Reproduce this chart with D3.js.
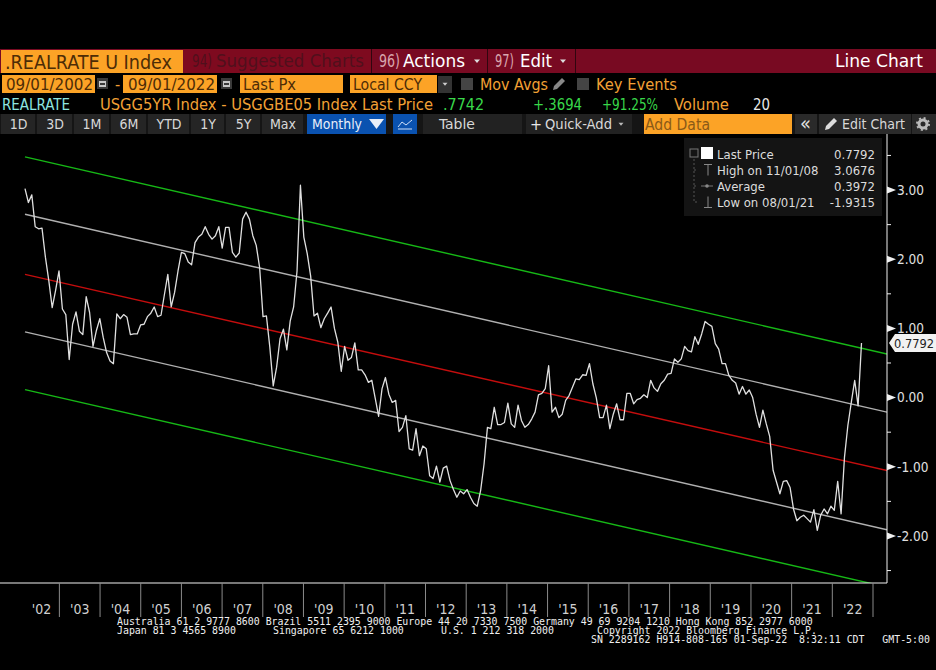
<!DOCTYPE html>
<html>
<head>
<meta charset="utf-8">
<script src="https://cdn.jsdelivr.net/npm/d3@7"></script>
<style>
  html, body { margin: 0; padding: 0; background: #000; overflow: hidden; }
  text { font-family: "DejaVu Sans Condensed", "DejaVu Sans", sans-serif; }
  .mono { font-family: "DejaVu Sans Mono", monospace; white-space: pre; }
</style>
</head>
<body>
<svg id="chart" width="936" height="670"></svg>
<script>
// monthly spread, first point to last
var real_rate = [
  3.02, 2.82, 2.93, 2.47, 2.44, 2.45, 2.03, 1.69, 1.30, 1.55, 1.83, 1.28, 1.20, 0.55, 1.06, 1.24,
  0.96, 0.91, 1.46, 1.23, 0.74, 0.97, 1.14, 0.87, 0.65, 0.53, 0.49, 1.21, 1.14, 1.20, 1.16, 0.91,
  0.92, 0.92, 1.05, 1.06, 1.17, 1.22, 1.31, 1.17, 1.19, 1.49, 1.78, 1.31, 1.52, 1.83, 2.10, 2.08,
  1.96, 1.92, 2.24, 2.32, 2.36, 2.47, 2.36, 2.29, 2.34, 2.47, 2.16, 2.46, 2.46, 2.10, 2.03, 2.09,
  2.58, 2.68, 2.58, 2.34, 2.20, 1.88, 1.17, 1.18, 0.73, 0.17, 0.44, 0.85, 0.99, 0.69, 1.11, 1.31,
  1.83, 3.07, 2.32, 2.08, 1.76, 1.18, 1.22, 1.01, 1.14, 1.22, 1.31, 1.00, 0.80, 0.38, 0.74, 0.54,
  0.58, 0.79, 0.40, 0.40, 0.33, 0.22, 0.25, -0.01, -0.27, 0.13, 0.29, 0.05, -0.07, -0.04, -0.49, -0.43,
  -0.26, -0.74, -0.76, -0.45, -0.84, -0.70, -0.74, -1.13, -1.17, -0.99, -1.22, -1.02, -0.99, -1.20, -1.33, -1.44,
  -1.35, -1.39, -1.33, -1.44, -1.53, -1.57, -1.34, -0.96, -0.43, -0.45, -0.14, -0.39, -0.39, -0.36, -0.08, -0.38,
  -0.43, -0.11, -0.33, -0.43, -0.39, -0.31, -0.21, 0.04, 0.06, 0.13, 0.46, -0.21, -0.14, -0.29, -0.24, -0.04,
  0.03, 0.15, 0.27, 0.26, 0.33, 0.32, 0.49, 0.20, 0.00, -0.29, -0.29, -0.11, -0.45, -0.24, -0.09, -0.32,
  -0.32, 0.06, 0.06, -0.09, -0.03, -0.01, 0.04, 0.00, 0.25, 0.14, 0.09, 0.20, 0.25, 0.34, 0.35, 0.56,
  0.51, 0.56, 0.74, 0.68, 0.66, 0.88, 0.77, 0.92, 1.10, 1.06, 1.03, 0.78, 0.70, 0.49, 0.49, 0.32,
  0.25, 0.21, 0.05, 0.16, 0.05, 0.11, 0.00, -0.24, -0.43, -0.18, -0.38, -0.56, -1.05, -1.22, -1.39, -1.21,
  -1.20, -1.30, -1.61, -1.78, -1.73, -1.70, -1.75, -1.80, -1.62, -1.92, -1.70, -1.61, -1.68, -1.57, -1.63, -1.21,
  -1.68, -0.86, -0.40, -0.07, 0.25, -0.12, 0.79
];

var year_labels = ["'02", "'03", "'04", "'05", "'06", "'07", "'08", "'09", "'10", "'11", "'12",
  "'13", "'14", "'15", "'16", "'17", "'18", "'19", "'20", "'21", "'22"];
var major_ticks = [3, 2, 1, 0, -1, -2];
var minor_ticks = [3.5, 2.5, 1.5, 0.5, -0.5, -1.5, -2.5];

// trend channel: value at the left end and at the right edge of the plot
var channel_names = ['upper2', 'upper1', 'mid', 'lower1', 'lower2'];
var channel_start = [3.48, 2.65, 1.78, 0.95, 0.115];
var channel_end = [0.63, -0.21, -1.055, -1.91, -2.74];
var channel_color = ['#16b816', '#b0b0b0', '#c40d0d', '#b0b0b0', '#16b816'];

var legend_names = ['Last Price', 'High on 11/01/08', 'Average', 'Low on 08/01/21'];
var legend_values = ['0.7792', '3.0676', '0.3972', '-1.9315'];

var svg = d3.select('#chart');
var orange = '#fca326', on_orange = '#4d2c06', txt_orange = '#f2a035', bar_red = '#780a22';
var green = '#39d84a';

var x = d3.scaleLinear().domain([0, 253.5]).range([25, 887]);
var y = d3.scaleLinear().domain([-2.68, 3.81]).range([583, 134]);
var x_years = d3.scaleBand().domain(year_labels).range([18.7, 873]);

function box(px, py, w, h, fill) {
  return svg.append('rect').attr('x', px).attr('y', py).attr('width', w).attr('height', h).attr('fill', fill);
}

// text is fitted to the width it has in the screenshot
function label(px, cy, str, fill, size, width, anchor) {
  var t = svg.append('text').attr('x', px).attr('y', cy).attr('dy', '0.36em')
    .attr('fill', fill).attr('font-size', size).text(str);
  if (width) t.attr('textLength', width).attr('lengthAdjust', 'spacingAndGlyphs');
  if (anchor) t.attr('text-anchor', anchor);
  return t;
}

function caret(cx, cy, s, fill) {
  svg.append('path').attr('d', 'M' + (cx - s) + ',' + (cy - s / 2) + 'h' + (2 * s) + 'l' + (-s) + ',' + (s * 1.2) + 'z').attr('fill', fill);
}

function calendar(px) {
  box(px, 78, 11, 11, '#3a3a3a');
  box(px + 2, 81, 7, 6, '#c8c8c8');
  box(px + 3, 83, 5, 2, '#3a3a3a');
}

function pencil(px, cy, fill) {
  svg.append('path').attr('d', 'M' + px + ',' + (cy + 6) + 'l1,-4l8,-8l3,3l-8,8z').attr('fill', fill);
}

function header() {
  // title bar
  box(0, 49, 936, 24, bar_red);
  box(1, 50, 182, 23, orange);
  label(5, 62, '.REALRATE U Index', on_orange, 19, 167);
  box(184, 49, 187, 24, '#7e0a1f');
  label(192, 61, '94)', '#50101c', 17, 20);
  label(216, 61, 'Suggested Charts', '#50101c', 18, 148);
  box(371, 49, 1, 24, '#30060f');
  label(379, 61, '96)', '#d8a6ae', 17, 21);
  label(403, 61, 'Actions', '#fff', 18, 62);
  caret(477, 61, 3, '#ddd');
  box(487, 49, 1, 24, '#30060f');
  label(495, 61, '97)', '#d8a6ae', 17, 19);
  label(520, 61, 'Edit', '#fff', 18, 32);
  caret(563, 61, 3, '#ddd');
  box(575, 49, 1, 24, '#30060f');
  label(835, 61, 'Line Chart', '#fff', 18, 88);

  // date row
  box(2, 75, 93, 18, orange);
  label(6, 84, '09/01/2002', on_orange, 16, 87);
  calendar(97);
  label(115, 84, '-', txt_orange, 16);
  box(123, 75, 94, 18, orange);
  label(128, 84, '09/01/2022', on_orange, 16, 87);
  calendar(221);
  box(240, 75, 103, 18, orange);
  label(243, 84, 'Last Px', on_orange, 16, 53);
  box(350, 75, 87, 18, orange);
  label(353, 84, 'Local CCY', on_orange, 16, 69);
  box(438, 76, 14, 17, '#333');
  caret(445, 84, 2.5, '#ccc');
  box(461, 78, 12, 12, '#444');
  label(480, 84, 'Mov Avgs', txt_orange, 16, 68);
  pencil(553, 84, '#888');
  box(577, 78, 12, 12, '#444');
  label(596, 84, 'Key Events', txt_orange, 16, 81);

  // description row
  label(2, 104, 'REALRATE', '#8fe6e0', 16, 68);
  label(100, 104, 'USGG5YR Index - USGGBE05 Index Last Price', txt_orange, 16, 333);
  label(443, 104, '.7742', green, 16, 41);
  label(533, 104, '+.3694', green, 16, 49);
  label(602, 104, '+91.25%', green, 16, 56);
  label(674, 104, 'Volume', txt_orange, 16, 55);
  label(753, 104, '20', '#e8e8e8', 16, 17);

  // toolbar
  box(0, 114, 936, 20, '#151515');
  var range_left = [1, 37, 74, 111, 148, 191, 226, 262];
  var range_right = [36, 73, 110, 147, 190, 225, 261, 304];
  var range_text = ['1D', '3D', '1M', '6M', 'YTD', '1Y', '5Y', 'Max'];
  range_text.forEach(function (d, i) {
    box(range_left[i], 114, range_right[i] - range_left[i] - 1, 20, '#252525');
    label((range_left[i] + range_right[i]) / 2, 124, d, '#d8d8d8', 14, null, 'middle');
  });
  box(307, 114, 79, 20, '#0a52b0');
  label(312, 124, 'Monthly', '#e8eef8', 14.5, 50);
  svg.append('path').attr('d', 'M369,119h15l-7.5,10z').attr('fill', '#e8eef8');
  box(393, 114, 24, 20, '#0a52b0');
  svg.append('path').attr('d', 'M398,127l4,-5l4,3l6,-5M398,129h14').attr('fill', 'none').attr('stroke', '#cfe0f8').attr('stroke-width', 1);
  box(423, 114, 99, 20, '#222');
  label(439, 124, 'Table', '#d8d8d8', 14.5, 36);
  box(526, 114, 106, 20, '#222');
  label(530, 124, '+', '#e8e8e8', 16);
  label(545, 124, 'Quick-Add', '#d8d8d8', 14.5, 67);
  caret(621, 124, 2.5, '#bbb');
  box(644, 114, 148, 20, orange);
  label(645, 124, 'Add Data', '#8a5a18', 15.5, 65);
  box(795, 114, 22, 20, '#2a2a2a');
  label(800, 123, '«', '#ddd', 20);
  box(819, 114, 92, 20, '#2a2a2a');
  pencil(825, 124, '#ddd');
  label(842, 124, 'Edit Chart', '#d8d8d8', 14.5, 63);
  box(912, 114, 24, 20, '#2a2a2a');
  svg.append('circle').attr('cx', 923).attr('cy', 124).attr('r', 4).attr('fill', 'none')
    .attr('stroke', '#bbb').attr('stroke-width', 3);
  svg.append('circle').attr('cx', 923).attr('cy', 124).attr('r', 6).attr('fill', 'none')
    .attr('stroke', '#bbb').attr('stroke-width', 2).attr('stroke-dasharray', '2 2.7');
}

function plot() {
  svg.append('clipPath').attr('id', 'plot_clip').append('rect')
    .attr('x', 0).attr('y', y.range()[1]).attr('width', x.range()[1]).attr('height', y.range()[0] - y.range()[1]);

  svg.append('g').attr('clip-path', 'url(#plot_clip)')
    .selectAll('line').data(channel_names).enter().append('line')
    .attr('x1', x(0))
    .attr('x2', x.range()[1])
    .attr('y1', (d, i) => y(channel_start[i]))
    .attr('y2', (d, i) => y(channel_end[i]))
    .attr('stroke', (d, i) => channel_color[i])
    .attr('stroke-width', 1.4);

  var line = d3.line().x((d, i) => x(i)).y(d => y(d));
  svg.append('path').datum(real_rate)
    .attr('d', line)
    .attr('fill', 'none')
    .attr('stroke', '#e0e0e0')
    .attr('stroke-width', 1.3)
    .attr('stroke-linejoin', 'round');
}

function axes() {
  // right axis: arrow marks on the whole numbers, short ticks on the halves
  var y_axis = svg.append('g').attr('transform', 'translate(' + x.range()[1] + ',0)');
  y_axis.append('line').attr('y1', y.range()[1]).attr('y2', y.range()[0]).attr('stroke', '#f0f0f0').attr('stroke-width', 1);
  y_axis.selectAll('.minor').data(minor_ticks).enter().append('line')
    .attr('class', 'minor').attr('x2', 4).attr('y1', d => y(d)).attr('y2', d => y(d)).attr('stroke', '#f0f0f0');
  y_axis.selectAll('.major').data(major_ticks).enter().append('path')
    .attr('class', 'major').attr('d', d => 'M0,' + (y(d) - 3.5) + 'L9,' + y(d) + 'L0,' + (y(d) + 3.5) + 'z').attr('fill', '#f0f0f0');
  y_axis.selectAll('text').data(major_ticks).enter().append('text')
    .attr('x', 10).attr('y', d => y(d)).attr('dy', '0.36em')
    .attr('fill', '#e0e0e0').attr('font-size', 13.5)
    .text(d => (d < 0 ? '-' : '') + Math.abs(d).toFixed(2));

  // bottom axis: year separators with the label in between
  svg.append('line').attr('x1', 0).attr('x2', x.range()[1]).attr('y1', y.range()[0]).attr('y2', y.range()[0])
    .attr('stroke', '#f0f0f0').attr('stroke-width', 1);
  var years = svg.append('g');
  years.selectAll('line').data(year_labels).enter().append('line')
    .attr('x1', d => x_years(d) + x_years.bandwidth())
    .attr('x2', d => x_years(d) + x_years.bandwidth())
    .attr('y1', y.range()[0]).attr('y2', 617)
    .attr('stroke', '#8a8a8a');
  years.selectAll('text').data(year_labels).enter().append('text')
    .attr('x', (d, i) => x_years(d) + x_years.bandwidth() / 2 + (i == 0 ? 2.5 : 0))
    .attr('y', 609).attr('dy', '0.36em').attr('text-anchor', 'middle')
    .attr('fill', '#d0d0d0').attr('font-size', 14)
    .text(d => d);

  // last value flag
  svg.append('path').attr('d', 'M889,343l6,-9h41v18h-41z').attr('fill', '#f2f2f2');
  label(894, 343, legend_values[0], '#222', 13, 40);
}

function legend() {
  box(684, 138, 198, 78, '#141414');
  var rows = d3.scaleBand().domain(legend_names).range([146, 210]);
  var cy = d => rows(d) + rows.bandwidth() / 2;
  var g = svg.append('g');

  g.append('path').attr('d', 'M694,159V202h5M694,170h3M694,186h3').attr('fill', 'none').attr('stroke', '#555').attr('stroke-dasharray', '2 2');
  box(690, 149, 8, 8, '#141414').attr('stroke', '#777');
  box(701, 147, 12, 12, '#fff');
  g.append('path').attr('d', 'M704,164.5h8M708,164.5v11').attr('stroke', '#888').attr('fill', 'none');
  g.append('path').attr('d', 'M701,186h12').attr('stroke', '#777').attr('fill', 'none');
  g.append('circle').attr('cx', 707).attr('cy', 186).attr('r', 1.8).attr('fill', '#888');
  g.append('path').attr('d', 'M704,207.5h8M708,207.5v-11').attr('stroke', '#888').attr('fill', 'none');

  g.selectAll('.name').data(legend_names).enter().append('text').attr('class', 'name')
    .attr('x', 717).attr('y', cy).attr('dy', '0.36em')
    .attr('fill', '#dcdcdc').attr('font-size', 13).text(d => d);
  g.selectAll('.value').data(legend_values).enter().append('text').attr('class', 'value')
    .attr('x', 875).attr('y', (d, i) => cy(legend_names[i])).attr('dy', '0.36em').attr('text-anchor', 'end')
    .attr('fill', '#dcdcdc').attr('font-size', 13).text(d => d);
}

function footer() {
  var mono = function (px, cy, str) {
    svg.append('text').attr('class', 'mono').attr('x', px).attr('y', cy).attr('dy', '0.36em')
      .attr('fill', '#efefef').attr('font-size', 9.9).text(str);
  };
  mono(117, 621, 'Australia 61 2 9777 8600 Brazil 5511 2395 9000 Europe 44 20 7330 7500 Germany 49 69 9204 1210 Hong Kong 852 2977 6000');
  mono(117, 630, 'Japan 81 3 4565 8900');
  mono(273, 630, 'Singapore 65 6212 1000');
  mono(441, 630, 'U.S. 1 212 318 2000');
  mono(597, 630, 'Copyright 2022 Bloomberg Finance L.P.');
  mono(591, 639, 'SN 2289162 H914-808-165 01-Sep-22  8:32:11 CDT   GMT-5:00');
}

header();
plot();
axes();
legend();
footer();
</script>
</body>
</html>
